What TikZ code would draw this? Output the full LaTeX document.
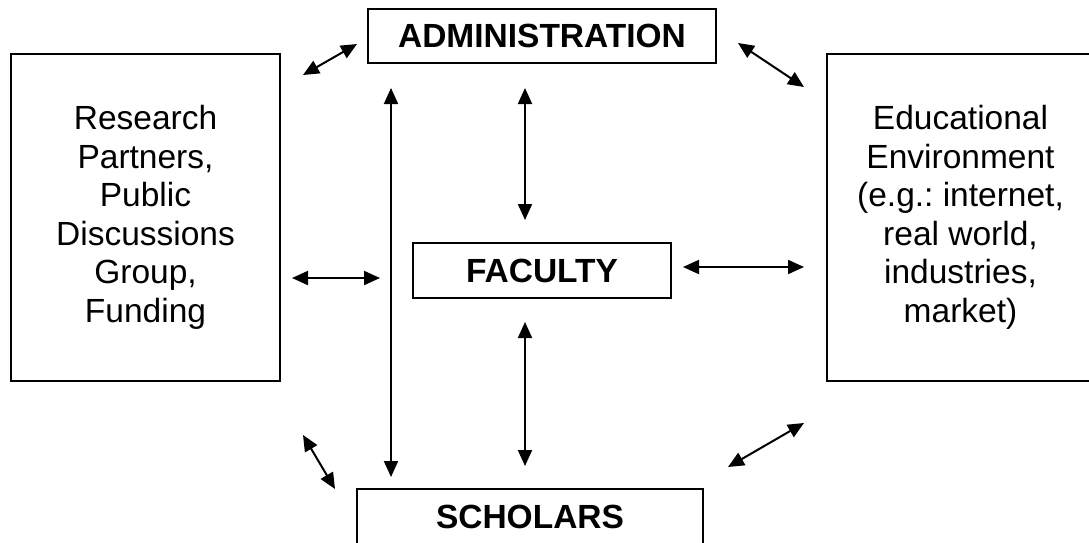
\documentclass[tikz,border=0pt]{standalone}
\usepackage{fontspec}
\setmainfont{Liberation Sans}
\usetikzlibrary{arrows.meta}
\frenchspacing
\tikzset{
  box/.style={draw=black, line width=2pt, fill=white, inner sep=0pt, align=center,
    font=\fontsize{33.5}{38.5}\selectfont},
  boldbox/.style={box, font=\bfseries\fontsize{33.5}{38.5}\selectfont},
  link/.style={line width=2pt, {Triangle[length=16pt,width=14pt]}-{Triangle[length=16pt,width=14pt]}}
}
\begin{document}
\begin{tikzpicture}[x=1pt,y=-1pt]
\useasboundingbox (0,0) rectangle (1089,542);
\clip (0,0) rectangle (1089,542);
\fill[white] (0,0) rectangle (1089,542);
% boxes
\node[boldbox, minimum width=348pt, minimum height=54pt] (admin) at (542,36) {ADMINISTRATION};
\node[boldbox, minimum width=258pt, minimum height=55pt] (faculty) at (542,270.5) {FACULTY};
\node[boldbox, minimum width=346pt, minimum height=56pt] (scholars) at (530,517) {SCHOLARS};
\node[box, minimum width=269pt, minimum height=327pt] (partners) at (145.5,217.5)
  {Research\\Partners,\\Public\\Discussions\\Group,\\Funding};
\node[box, minimum width=267pt, minimum height=327pt] (env) at (960.5,217.5)
  {Educational\\Environment\\(e.g.: internet,\\real world,\\industries,\\market)};
% arrow end points
\coordinate (p1a) at (303,75);  \coordinate (p1b) at (357,44);
\coordinate (p2a) at (738,43);  \coordinate (p2b) at (804,87);
\coordinate (p3a) at (391,88);  \coordinate (p3b) at (391,477);
\coordinate (p4a) at (525,88);  \coordinate (p4b) at (525,220);
\coordinate (p5a) at (525,322); \coordinate (p5b) at (525,466);
\coordinate (p6a) at (292,278); \coordinate (p6b) at (380,278);
\coordinate (p7a) at (683,267); \coordinate (p7b) at (804,267);
\coordinate (p8a) at (303,435); \coordinate (p8b) at (335,489);
\coordinate (p9a) at (728,467); \coordinate (p9b) at (804,423);
% arrows
\draw[link] (p1a) -- (p1b);
\draw[link] (p2a) -- (p2b);
\draw[link] (p3a) -- (p3b);
\draw[link] (p4a) -- (p4b);
\draw[link] (p5a) -- (p5b);
\draw[link] (p6a) -- (p6b);
\draw[link] (p7a) -- (p7b);
\draw[link] (p8a) -- (p8b);
\draw[link] (p9a) -- (p9b);
\end{tikzpicture}
\end{document}
